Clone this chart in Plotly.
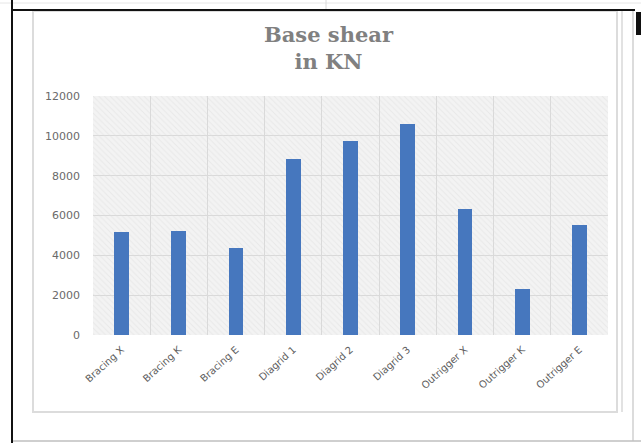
import plotly.graph_objects as go

categories = ["Bracing X", "Bracing K", "Bracing E", "Diagrid 1", "Diagrid 2",
              "Diagrid 3", "Outrigger X", "Outrigger K", "Outrigger E"]
base_shear = [5180, 5230, 4350, 8820, 9760, 10590, 6330, 2310, 5520]
y_ticks = [0, 2000, 4000, 6000, 8000, 10000, 12000]
y_tick_labels = ["0", "2000", "4000", "6000", "8000", "10000", "12000"]
Y_MAX = 12000

W, H = 641, 443
L, R, T, B = 93, 33, 96, 108
PW, PH = W - L - R, H - T - B


def px(x):
    return (x - L) / PW


def py(y):
    return 1 - (y - T) / PH


fig = go.Figure()

# hatched plot background (one band per category)
fig.add_trace(go.Bar(
    x=categories, y=[Y_MAX] * len(categories), width=1,
    marker=dict(color="rgba(0,0,0,0)", line=dict(width=0),
                pattern=dict(shape="\\", fgcolor="#dedede", size=4,
                             solidity=0.25, fillmode="overlay")),
    hoverinfo="skip", showlegend=False,
))

fig.add_trace(go.Bar(
    x=categories, y=base_shear, width=0.26,
    marker=dict(color="#4677be", line=dict(width=0)),
    showlegend=False,
))

shapes = []
# inner chart frame
shapes.append(dict(type="rect", xref="paper", yref="paper",
                   x0=px(33), x1=px(617), y0=py(412), y1=py(11),
                   line=dict(color="#dcdcdc", width=2), layer="below"))
shapes.append(dict(type="line", xref="paper", yref="paper",
                   x0=px(622), x1=px(622), y0=py(412), y1=py(11),
                   line=dict(color="#e2e2e2", width=2)))
# screenshot borders
shapes.append(dict(type="line", xref="paper", yref="paper",
                   x0=px(633), x1=px(633), y0=py(441), y1=py(10),
                   line=dict(color="#d0d0d0", width=1.5)))
shapes.append(dict(type="line", xref="paper", yref="paper",
                   x0=px(12), x1=px(641), y0=py(441), y1=py(441),
                   line=dict(color="#bfbfbf", width=1.5)))
shapes.append(dict(type="line", xref="paper", yref="paper",
                   x0=px(0), x1=px(641), y0=py(3), y1=py(3),
                   line=dict(color="#e6e6e6", width=1)))
shapes.append(dict(type="line", xref="paper", yref="paper",
                   x0=px(326), x1=px(326), y0=py(10), y1=py(0),
                   line=dict(color="#d8d8d8", width=1)))
shapes.append(dict(type="line", xref="paper", yref="paper",
                   x0=px(12), x1=px(635), y0=py(10), y1=py(10),
                   line=dict(color="#111111", width=2)))
shapes.append(dict(type="line", xref="paper", yref="paper",
                   x0=px(12), x1=px(12), y0=py(443), y1=py(0),
                   line=dict(color="#111111", width=2)))
shapes.append(dict(type="rect", xref="paper", yref="paper",
                   x0=px(636), x1=px(641), y0=py(35), y1=py(12),
                   fillcolor="#111111", line=dict(width=0)))

fig.update_layout(
    width=W, height=H,
    margin=dict(l=L, r=R, t=T, b=B),
    paper_bgcolor="white",
    plot_bgcolor="#f3f3f3",
    barmode="overlay",
    bargap=0,
    shapes=shapes,
    annotations=[dict(
        text="<b>Base shear<br>in KN</b>",
        xref="paper", yref="paper", x=px(329), y=py(20),
        xanchor="center", yanchor="top", showarrow=False, align="center",
        font=dict(family="DejaVu Serif", size=21, color="#808080"),
    )],
    xaxis=dict(
        type="category", range=[-0.5, len(categories) - 0.5],
        tickson="boundaries", showgrid=True, gridcolor="#d9d9d9", gridwidth=1,
        ticks="", tickangle=-42, showline=False, zeroline=False,
        tickfont=dict(family="DejaVu Sans", size=10, color="#606060"),
        ticklabelstandoff=6,
    ),
    yaxis=dict(
        range=[0, Y_MAX], tickvals=y_ticks, ticktext=y_tick_labels,
        showgrid=True, gridcolor="#d9d9d9", gridwidth=1,
        zeroline=False, showline=False, ticks="",
        tickfont=dict(family="DejaVu Sans", size=11, color="#6a6a6a"),
        ticklabelstandoff=12,
    ),
    font=dict(family="DejaVu Sans"),
)

fig.write_html("out.html")
